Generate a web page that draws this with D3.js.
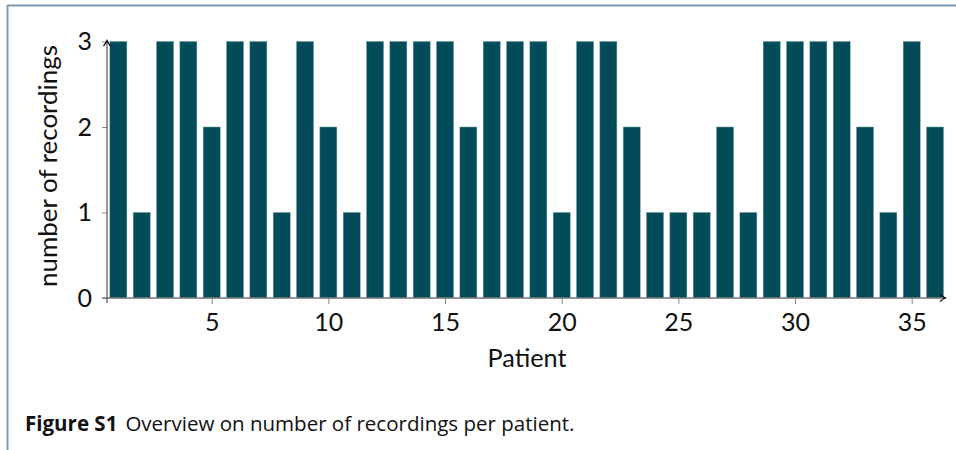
<!DOCTYPE html>
<html><head><meta charset="utf-8">
<script src="https://cdn.jsdelivr.net/npm/d3@7"></script>
<style>body{margin:0;background:#fff}svg{display:block}</style>
</head><body>
<svg id="c" width="956" height="450"></svg>
<script>
const patients = d3.range(1, 37);
const recordings = [3,1,3,3,2,3,3,1,3,2,1,3,3,3,3,2,3,3,3,1,3,3,2,1,1,1,2,1,3,3,3,3,2,1,3,2];
const xTicks = [5,10,15,20,25,30,35];
const yTicks = [0,1,2,3];

const svg = d3.select("#c");
const font = "Lato, sans-serif";
const capFont = "'Open Sans', sans-serif";
const fill = "#024b59";

// frame
svg.append("line").attr("x1",7.5).attr("x2",956).attr("y1",5.5).attr("y2",5.5).attr("stroke","#7f98b4").attr("stroke-width",2);
svg.append("line").attr("x1",7.5).attr("x2",7.5).attr("y1",5).attr("y2",450).attr("stroke","#7f98b4").attr("stroke-width",2);

const x = d3.scaleLinear().domain([5,35]).range([211.7,911.7]);
const y = d3.scaleLinear().domain([0,3]).range([298,41.5]);
const bw = 17;

svg.append("g").selectAll("rect").data(patients).join("rect")
  .attr("x", d => x(d) - bw/2)
  .attr("width", bw)
  .attr("y", (d,i) => y(recordings[i]))
  .attr("height", (d,i) => y(0) - y(recordings[i]))
  .attr("fill", fill)
  .attr("stroke", "#6f9aa3").attr("stroke-width", 0.5);

function fit(sel, target){
  const w = sel.node().getComputedTextLength();
  const fs = parseFloat(sel.attr("font-size"));
  sel.attr("font-size", fs * target / w);
}

// x axis
const xAxis = svg.append("g").attr("transform","translate(0,298)")
  .call(d3.axisBottom(x).tickValues(xTicks).tickSize(6).tickPadding(9.5).tickFormat(d3.format("d")));
xAxis.select(".domain").remove();
xAxis.selectAll("line").attr("stroke","#888");
xAxis.selectAll("text").attr("font-family",font).attr("font-size",25).attr("fill","#111");
svg.append("line").attr("x1",102).attr("x2",944).attr("y1",298).attr("y2",298).attr("stroke","#777").attr("stroke-width",1.3);

// y axis
const yAxis = svg.append("g").attr("transform","translate(107,0)")
  .call(d3.axisLeft(y).tickValues(yTicks).tickSize(5).tickPadding(10).tickFormat(d3.format("d")));
yAxis.select(".domain").remove();
yAxis.selectAll("line").attr("stroke","#888");
yAxis.selectAll("text").attr("font-family",font).attr("font-size",25).attr("fill","#111");
svg.append("line").attr("x1",107).attr("x2",107).attr("y1",303).attr("y2",42).attr("stroke","#555").attr("stroke-width",1.2);

// arrowheads
svg.append("path").attr("d","M103.5,46 Q106,43 107,40.5 Q108,43 110.5,46").attr("fill","none").attr("stroke","#000").attr("stroke-width",1.2);
svg.append("path").attr("d","M940,301.5 Q943,299 945.5,298 Q943,297 940,294.5").attr("fill","none").attr("stroke","#000").attr("stroke-width",1.2);

// labels
const xl = svg.append("text").attr("x",527).attr("y",367).attr("text-anchor","middle")
  .attr("font-family",font).attr("font-size",26).attr("fill","#111").text("Patient");
fit(xl, 79);
const yl = svg.append("text").attr("transform","translate(57,166) rotate(-90)").attr("text-anchor","middle")
  .attr("font-family",font).attr("font-size",26).attr("fill","#111").text("number of recordings");
fit(yl, 242);

const cap = svg.append("text").attr("x",25).attr("y",431).attr("font-family",capFont).attr("font-size",16).attr("fill","#111");
cap.append("tspan").attr("font-weight","bold").text("Figure S1");
cap.append("tspan").attr("dx",8).text("Overview on number of recordings per patient.");
fit(cap, 542);
</script>
</body></html>
